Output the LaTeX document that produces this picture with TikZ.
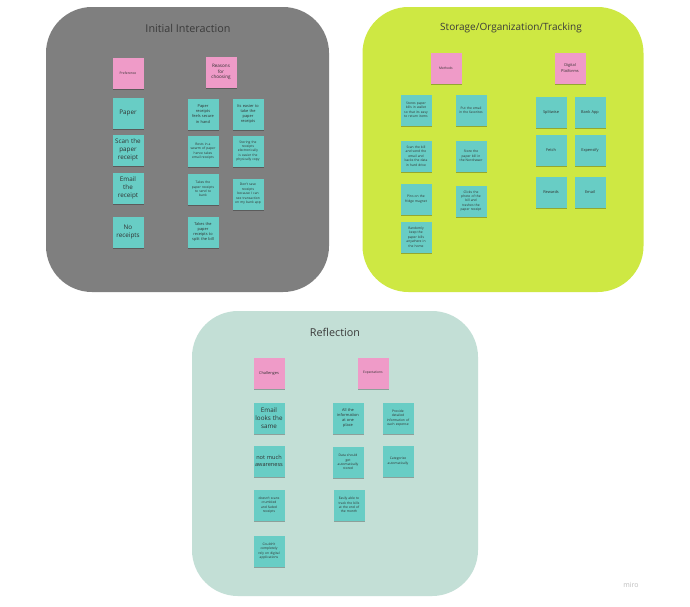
\documentclass[tikz,border=0pt]{standalone}
\usepackage{fontspec}
\setmainfont{Open Sans}
\usetikzlibrary{shadows}
\definecolor{panelgray}{HTML}{7F7F7F}
\definecolor{panellime}{HTML}{CEE843}
\definecolor{panelteal}{HTML}{C3DFD6}
\definecolor{noteteal}{HTML}{68CDC5}
\definecolor{notepink}{HTML}{EF9BC8}
\definecolor{notetext}{HTML}{303030}
\definecolor{titletext}{HTML}{3A3A3A}
\definecolor{logogray}{HTML}{BDBDBD}
\newcommand{\fsbig}{\fontsize{6.3}{8.2}\selectfont}
\newcommand{\fsbigger}{\fontsize{5.6}{7.4}\selectfont}
\newcommand{\fsmid}{\fontsize{4.6}{5.9}\selectfont}
\newcommand{\fssmall}{\fontsize{3.9}{5.1}\selectfont}
\newcommand{\fstiny}{\fontsize{3.3}{4.4}\selectfont}
\tikzset{
  panel/.style={rectangle, rounded corners=46pt, inner sep=0pt},
  paneltitle/.style={font=\fontsize{10.8}{13}\selectfont, text=titletext, inner sep=0pt},
  note/.style={rectangle, minimum width=31pt, minimum height=31pt, inner sep=0pt,
    align=center, text width=31pt, text=notetext,
    drop shadow={shadow xshift=0pt, shadow yshift=-1.8pt, opacity=0.28, fill=black}},
  tnote/.style={note, fill=noteteal},
  pnote/.style={note, fill=notepink},
}
\begin{document}
\begin{tikzpicture}[x=1pt,y=-1pt]
\useasboundingbox (0,0) rectangle (690,606);
\fill[white] (0,0) rectangle (690,606);

% panels
\node[panel, fill=panelgray, minimum width=283pt, minimum height=285pt] (p1) at (187.5,149.5) {};
\node[panel, fill=panellime, minimum width=281pt, minimum height=285pt] (p2) at (503,149.5) {};
\node[panel, fill=panelteal, minimum width=286pt, minimum height=285pt] (p3) at (335,453.5) {};

% titles
\node[paneltitle] (t1) at (188,28) {Initial Interaction};
\node[paneltitle, font=\fontsize{10}{12}\selectfont] (t2) at (511,28) {Storage/Organization/Tracking};
\node[paneltitle] (t3) at (335,332) {Reflection};

% ---- Initial Interaction
\node[pnote, font=\fstiny] (pref) at (128,73) {Preference};
\node[pnote, font=\fsmid] (reas) at (221,72) {Reasons\\for\\choosing};
\node[tnote, font=\fsbig] (paper) at (128,113) {Paper};
\node[tnote, font=\fsbig] (scan) at (128,150) {Scan the\\paper\\receipt};
\node[tnote, font=\fsbig] (email) at (128,188) {Email\\the\\receipt};
\node[tnote, font=\fsbig] (norec) at (128,232) {No\\receipts};
\node[tnote, font=\fssmall] (s1) at (203,114) {Paper\\receipts\\feels secure\\in hand};
\node[tnote, font=\fssmall] (s2) at (248,114) {Its easier to\\take the\\paper\\receipts};
\node[tnote, font=\fstiny] (s3) at (203,151) {Rests in a\\swarm of paper\\hence takes\\email receipts};
\node[tnote, font=\fstiny] (s4) at (248,151) {Storing the\\receipts\\electronically\\is easier the\\physically copy};
\node[tnote, font=\fstiny] (s5) at (203,189) {Takes the\\paper receipts\\to send to\\bank};
\node[tnote, font=\fstiny] (s6) at (248,194) {Don't save\\receipts\\because I can\\see transaction\\on my bank app};
\node[tnote, font=\fssmall] (s7) at (203,232) {Takes the\\paper\\receipts to\\split the bill};

% ---- Storage/Organization/Tracking
\node[pnote, font=\fstiny] (meth) at (446,68) {Methods};
\node[pnote, font=\fssmall] (digi) at (570,68) {Digital\\Platforms};
\node[tnote, font=\fstiny] (m1) at (416,110) {Stores paper\\bills in wallet\\so that its easy\\to return items};
\node[tnote, font=\fstiny] (m2) at (471,110) {Put the email\\in the favorites};
\node[tnote, font=\fstiny] (m3) at (416,156) {Scan the bill\\and send the\\email and\\backs the data\\in hard drive};
\node[tnote, font=\fstiny] (m4) at (471,156) {Store the\\paper bill in\\the Nordrawer};
\node[tnote, font=\fstiny] (m5) at (416,199) {Pins on the\\fridge magnet};
\node[tnote, font=\fstiny] (m6) at (471,201) {Clicks the\\photo of the\\bill and\\trashes the\\paper receipt};
\node[tnote, font=\fstiny] (m7) at (416,237) {Randomly\\keep the\\paper bills\\anywhere in\\the home};
\node[tnote, font=\fssmall] (d1) at (551,112) {Splitwise};
\node[tnote, font=\fssmall] (d2) at (590,112) {Bank App};
\node[tnote, font=\fssmall] (d3) at (551,150) {Fetch};
\node[tnote, font=\fssmall] (d4) at (590,150) {Expensify};
\node[tnote, font=\fssmall] (d5) at (551,192) {Rewards};
\node[tnote, font=\fssmall] (d6) at (590,192) {Email};

% ---- Reflection
\node[pnote, font=\fssmall] (chal) at (269,373) {Challenges};
\node[pnote, font=\fstiny] (expe) at (373,373) {Expectations};
\node[tnote, font=\fsbig] (c1) at (269,418) {Email\\looks the\\same};
\node[tnote, font=\fsbigger] (c2) at (269,461) {not much\\awareness};
\node[tnote, font=\fstiny] (c3) at (269,505) {doesn't scans\\crumbled\\and faded\\receipts};
\node[tnote, font=\fstiny] (c4) at (269,551) {Couldn't\\completely\\rely on digital\\applications};
\node[tnote, font=\fssmall] (e1) at (348,418) {All the\\information\\at one\\place};
\node[tnote, font=\fstiny] (e2) at (398,418) {Provide\\detailed\\information of\\each expense};
\node[tnote, font=\fstiny] (e3) at (348,462) {Data should\\get\\automatically\\stored};
\node[tnote, font=\fstiny] (e4) at (398,461) {Categorize\\automatically};
\node[tnote, font=\fstiny] (e5) at (349,505) {Easily able to\\track the bills\\at the end of\\the month};

% logo
\node[text=logogray, font=\fontsize{7}{8}\selectfont, inner sep=0pt] (logo) at (631,585) {miro};
\end{tikzpicture}
\end{document}
